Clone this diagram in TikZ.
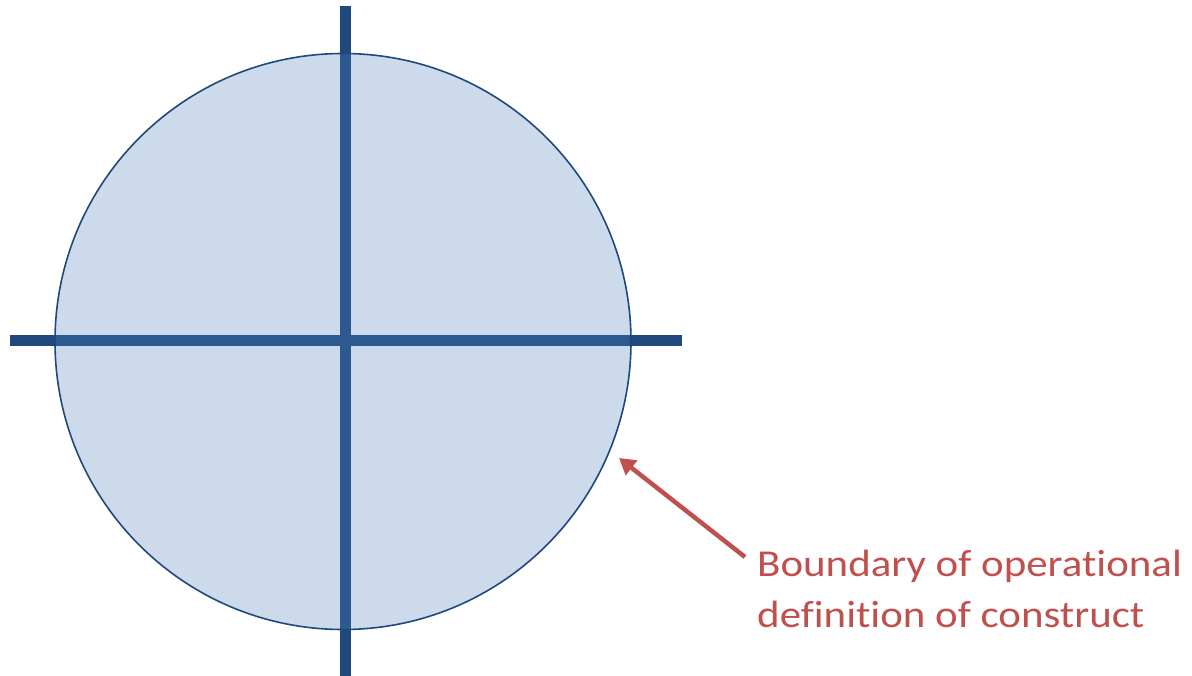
\documentclass[tikz,border=0pt]{standalone}
\usepackage{fontspec}
\setmainfont{Carlito}
\newfontfamily\labelfont[FakeStretch=1.13, Ligatures=NoCommon]{Carlito}
\usetikzlibrary{arrows.meta}
\definecolor{axisblue}{HTML}{1F497D}
\definecolor{fillblue}{HTML}{4F81BD}
\definecolor{labelred}{HTML}{C0504D}
\tikzset{
  axis/.style={draw=axisblue, line width=11pt},
  boundary/.style={circle, draw=axisblue, line width=1.6pt, fill=fillblue, fill opacity=0.29, draw opacity=1, minimum size=576pt, inner sep=0pt},
  pointer/.style={draw=labelred, line width=4.5pt, -{Triangle[length=16pt,width=18pt]}},
  label/.style={text=labelred, font=\labelfont\fontsize{38}{51}\selectfont, align=left, anchor=north west, inner sep=0pt}
}
\begin{document}
\begin{tikzpicture}[x=1pt,y=-1pt]
\useasboundingbox (0,0) rectangle (1192,676);
\coordinate (L) at (10,340.5);
\coordinate (R) at (682,340.5);
\coordinate (T) at (345.5,6);
\coordinate (B) at (345.5,676);
\draw[axis] (L) -- (R);
\draw[axis] (T) -- (B);
\node[boundary] (c) at (343,341.5) {};
\node[label] (t) at (757,550) {Boundary of operational\\definition of construct};
\coordinate (tip) at (619,458);
\coordinate (tail) at (745,557);
\draw[pointer] (tail) -- (tip);
\end{tikzpicture}
\end{document}
